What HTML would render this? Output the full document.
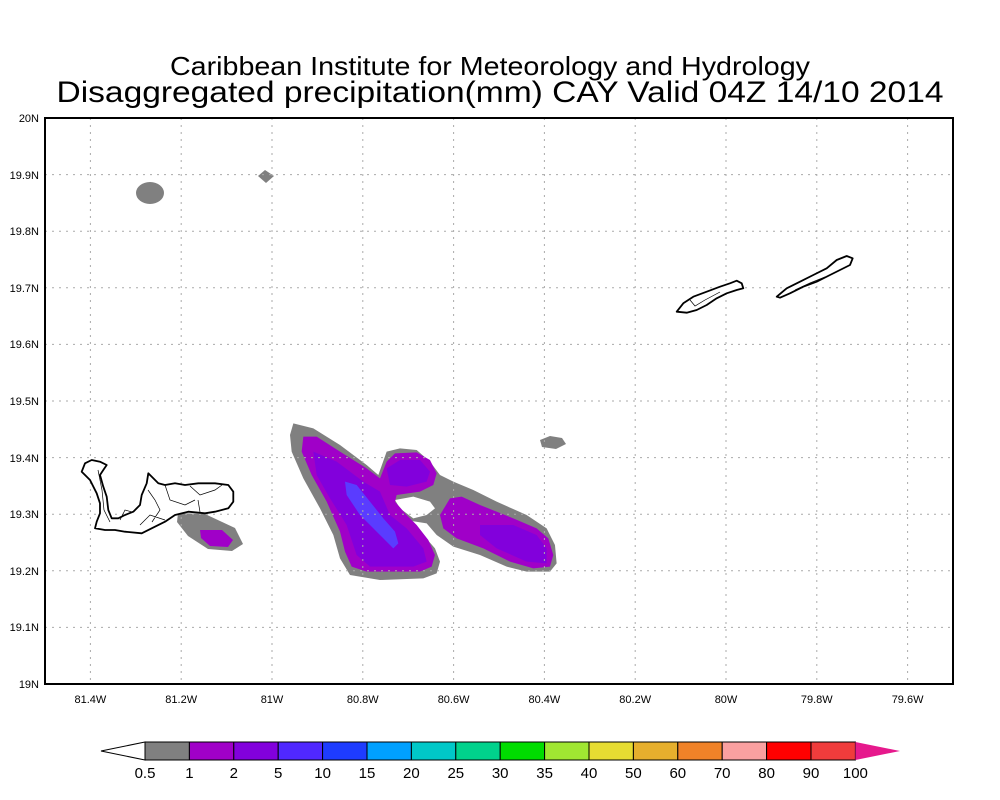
<!DOCTYPE html>
<html><head><meta charset="utf-8"><style>body{margin:0;background:#fff}svg{display:block}</style></head><body>
<svg width="1000" height="800" viewBox="0 0 1000 800" xmlns="http://www.w3.org/2000/svg" font-family="Liberation Sans, sans-serif">
<rect width="1000" height="800" fill="#fff"/>
<text x="490" y="75" font-size="26" text-anchor="middle" textLength="640" lengthAdjust="spacingAndGlyphs">Caribbean Institute for Meteorology and Hydrology</text>
<text x="500" y="102" font-size="30" text-anchor="middle" textLength="887" lengthAdjust="spacingAndGlyphs">Disaggregated precipitation(mm) CAY Valid 04Z 14/10 2014</text>

<!-- precip -->
<ellipse cx="150" cy="193" rx="14" ry="11" fill="#808080"/>
<path d="M258,176 L265,170 L274,176 L266,183 Z" fill="#808080"/>
<path d="M540,440 L550,436 L562,438 L566,444 L556,449 L542,447 Z" fill="#808080"/>
<path d="M178,513 L205,514 L235,528 L243,544 L232,551 L208,549 L188,536 L177,522 Z" fill="#808080"/>
<path d="M200,530 L222,530 L233,540 L228,547 L210,546 L201,538 Z" fill="#a000c8"/>
<g transform="translate(280,415) scale(0.3333)">
<path d="M40,25 L100,40 L180,90 L260,150 L295,180 L320,110 L360,100 L410,105 L450,140 L480,180 L520,200 L580,225 L650,260 L740,300 L800,340 L825,390 L830,445 L810,470 L740,470 L680,455 L600,420 L520,395 L470,360 L440,325 L395,318 L430,360 L465,400 L480,440 L470,475 L430,490 L300,495 L210,480 L180,430 L160,360 L120,280 L70,190 L35,110 L30,60 Z" fill="#808080"/>
<path d="M345,255 L400,245 L450,260 L465,280 L440,300 L400,310 L360,280 Z" fill="#fff"/>
<path d="M70,65 L110,65 L180,110 L260,160 L300,190 L320,140 L345,115 L410,112 L450,135 L470,175 L460,210 L420,230 L350,240 L345,260 L380,300 L410,330 L445,375 L465,420 L455,455 L420,470 L260,470 L215,455 L195,410 L180,350 L140,260 L95,180 L65,110 Z" fill="#a000c8"/>
<path d="M480,300 L510,250 L545,245 L600,270 L700,310 L770,340 L805,370 L820,420 L810,455 L760,460 L690,440 L610,400 L530,370 L490,340 Z" fill="#a000c8"/>
<path d="M100,110 L170,140 L250,200 L300,230 L330,300 L380,340 L430,400 L440,440 L400,455 L270,455 L230,420 L200,330 L150,250 L110,180 Z" fill="#8200dc"/>
<path d="M320,160 L360,135 L420,135 L450,170 L440,200 L380,215 L330,210 Z" fill="#8200dc"/>
<path d="M600,330 L700,330 L770,360 L800,400 L800,445 L740,440 L650,400 L600,360 Z" fill="#8200dc"/>
<path d="M195,200 L230,210 L270,260 L310,310 L345,350 L355,385 L340,400 L300,360 L240,300 L200,240 Z" fill="#5a3cff"/>
</g>

<!-- grid -->
<g stroke="#aaa" stroke-width="1" stroke-dasharray="2,5">
<line x1="90.4" y1="118" x2="90.4" y2="684"/><line x1="181.2" y1="118" x2="181.2" y2="684"/><line x1="272" y1="118" x2="272" y2="684"/><line x1="362.8" y1="118" x2="362.8" y2="684"/><line x1="453.6" y1="118" x2="453.6" y2="684"/><line x1="544.4" y1="118" x2="544.4" y2="684"/><line x1="635.2" y1="118" x2="635.2" y2="684"/><line x1="726" y1="118" x2="726" y2="684"/><line x1="816.8" y1="118" x2="816.8" y2="684"/><line x1="907.6" y1="118" x2="907.6" y2="684"/>
<line x1="45" y1="174.6" x2="953" y2="174.6"/><line x1="45" y1="231.2" x2="953" y2="231.2"/><line x1="45" y1="287.8" x2="953" y2="287.8"/><line x1="45" y1="344.4" x2="953" y2="344.4"/><line x1="45" y1="401" x2="953" y2="401"/><line x1="45" y1="457.6" x2="953" y2="457.6"/><line x1="45" y1="514.2" x2="953" y2="514.2"/><line x1="45" y1="570.8" x2="953" y2="570.8"/><line x1="45" y1="627.4" x2="953" y2="627.4"/>
</g>

<!-- islands -->
<g fill="#fff" stroke="#000" stroke-width="1.8" stroke-linejoin="round">
<path d="M81.7,471.7 L85,463.3 L91.7,460 L100,461.7 L106.7,465 L103.3,470 L100,475 L103.3,486.7 L106.7,496.7 L108.3,510 L111.7,518.3 L118.3,518.3 L125,515 L133.3,511.7 L140,505 L141.7,495 L146.7,483.3 L148.3,473.3 L153.3,478.3 L158.3,483.3 L165,485 L175,483.3 L185,485 L198.3,483.3 L215,483.3 L228.3,485 L233.3,491.7 L233.3,501.7 L228.3,508.3 L215,511.7 L205,513.3 L188.3,511.7 L175,515 L165,521.7 L151.7,528.3 L141.7,533.3 L125,531.7 L115,530 L105,530 L95,528.3 L96.7,521.7 L100,513.3 L100,503.3 L96.7,493.3 L90,480 L85,475 Z"/>
<path d="M676.7,311.7 L683.3,303.3 L693.3,296.7 L706.7,291.7 L720,286.7 L730,283.3 L736.7,280.7 L741.7,283.3 L743.3,288.3 L736.7,290 L726.7,293.3 L716.7,298.3 L706.7,305 L696.7,310 L686.7,312.7 Z"/>
<path d="M776.7,296.7 L786.7,288.3 L800,281.7 L813.3,275 L826.7,268.3 L836.7,260 L846.7,256 L852.7,258.3 L850,265 L840,270 L830,275 L816.7,281.7 L803.3,286.7 L790,293.3 L780,297.7 Z"/>
</g>
<g fill="none" stroke="#000" stroke-width="0.7">
<path d="M98,470 L102,490 L104,510 L110,522 M120,520 L125,510 L132,512 M148,490 L155,500 L160,510 L152,522 M165,485 L170,500 L185,505 L195,500 M190,486 L200,495 L215,490 L222,485 M198,500 L200,512 M140,525 L150,515 L165,520"/>
<path d="M690,300 L695,306 L705,300 L720,292 M795,290 L810,283 L825,277"/>
</g>

<rect x="45" y="118" width="908" height="566" fill="none" stroke="#000" stroke-width="2"/>

<g font-size="11" text-anchor="middle">
<text x="90.4" y="703">81.4W</text><text x="181.2" y="703">81.2W</text><text x="272" y="703">81W</text><text x="362.8" y="703">80.8W</text><text x="453.6" y="703">80.6W</text><text x="544.4" y="703">80.4W</text><text x="635.2" y="703">80.2W</text><text x="726" y="703">80W</text><text x="816.8" y="703">79.8W</text><text x="907.6" y="703">79.6W</text>
</g>
<g font-size="11" text-anchor="end">
<text x="39" y="122">20N</text><text x="39" y="179">19.9N</text><text x="39" y="235">19.8N</text><text x="39" y="292">19.7N</text><text x="39" y="348">19.6N</text><text x="39" y="405">19.5N</text><text x="39" y="462">19.4N</text><text x="39" y="518">19.3N</text><text x="39" y="575">19.2N</text><text x="39" y="631">19.1N</text><text x="39" y="688">19N</text>
</g>

<!-- colorbar -->
<g stroke="#000" stroke-width="1">
<path d="M101,751 L145,742 L145,760 Z" fill="#fff"/>
<rect x="145" y="742" width="44.4" height="18" fill="#808080"/>
<rect x="189.4" y="742" width="44.4" height="18" fill="#a000c8"/>
<rect x="233.8" y="742" width="44.4" height="18" fill="#8200dc"/>
<rect x="278.2" y="742" width="44.4" height="18" fill="#5028ff"/>
<rect x="322.6" y="742" width="44.4" height="18" fill="#1e3cff"/>
<rect x="367" y="742" width="44.4" height="18" fill="#00a0ff"/>
<rect x="411.4" y="742" width="44.4" height="18" fill="#00c8c8"/>
<rect x="455.8" y="742" width="44.4" height="18" fill="#00d28c"/>
<rect x="500.2" y="742" width="44.4" height="18" fill="#00dc00"/>
<rect x="544.6" y="742" width="44.4" height="18" fill="#a0e632"/>
<rect x="589" y="742" width="44.4" height="18" fill="#e6dc32"/>
<rect x="633.4" y="742" width="44.4" height="18" fill="#e6af2d"/>
<rect x="677.8" y="742" width="44.4" height="18" fill="#f08228"/>
<rect x="722.2" y="742" width="44.4" height="18" fill="#faa0a0"/>
<rect x="766.6" y="742" width="44.4" height="18" fill="#ff0000"/>
<rect x="811" y="742" width="44.4" height="18" fill="#f03c3c"/>
<path d="M855.4,742 L900,751 L855.4,760 Z" fill="#e6198c" stroke="none"/>
</g>
<g font-size="15" text-anchor="middle">
<text x="145" y="778">0.5</text><text x="189.4" y="778">1</text><text x="233.8" y="778">2</text><text x="278.2" y="778">5</text><text x="322.6" y="778">10</text><text x="367" y="778">15</text><text x="411.4" y="778">20</text><text x="455.8" y="778">25</text><text x="500.2" y="778">30</text><text x="544.6" y="778">35</text><text x="589" y="778">40</text><text x="633.4" y="778">50</text><text x="677.8" y="778">60</text><text x="722.2" y="778">70</text><text x="766.6" y="778">80</text><text x="811" y="778">90</text><text x="855.4" y="778">100</text>
</g>
</svg>
</body></html>
